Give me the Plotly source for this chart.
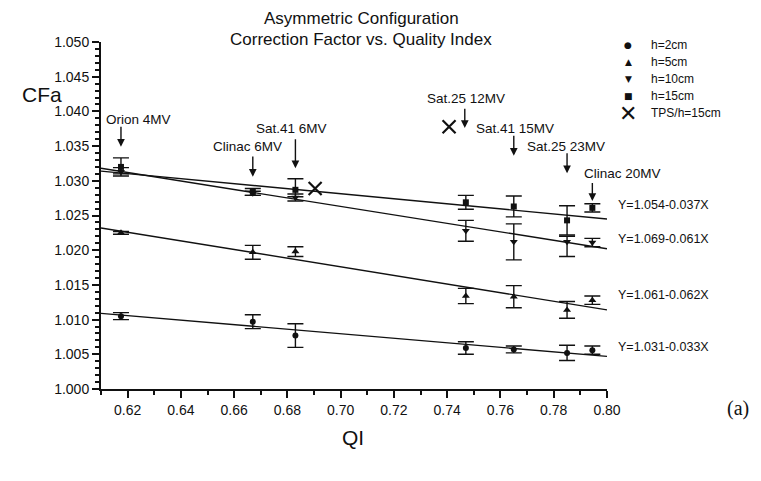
import plotly.graph_objects as go

# ---------------- data ----------------
qi = [0.6175, 0.667, 0.683, 0.747, 0.765, 0.785, 0.7945]

h2 = [1.0105, 1.0097, 1.0077, 1.0059, 1.0057, 1.0052, 1.0056]
h2_err = [0.0005, 0.0010, 0.0017, 0.0009, 0.0005, 0.0011, 0.0006]

h5 = [1.0225, 1.0197, 1.0198, 1.0134, 1.0133, 1.0114, 1.0128]
h5_err = [0.0002, 0.0010, 0.0007, 0.0011, 0.0016, 0.0012, 0.0006]

h10 = [1.0313, 1.0282, 1.0276, 1.0228, 1.0212, 1.0212, 1.0211]
h10_err_plus = [0.0006, 0.0003, 0.0005, 0.0015, 0.0026, 0.0008, 0.0006]
h10_err_minus = [0.0006, 0.0003, 0.0005, 0.0015, 0.0026, 0.0021, 0.0006]

h15 = [1.0320, 1.0284, 1.0287, 1.0269, 1.0263, 1.0243, 1.0261]
h15_err_plus = [0.0013, 0.0005, 0.0016, 0.0010, 0.0015, 0.0021, 0.0006]
h15_err_minus = [0.0010, 0.0005, 0.0010, 0.0010, 0.0015, 0.0021, 0.0006]

tps_x = [0.6904, 0.7407]
tps_y = [1.0289, 1.0378]

fit_x = [0.61, 0.80]
fit_h15 = [1.0314, 1.0245]
fit_h10 = [1.0318, 1.0202]
fit_h5 = [1.0232, 1.0114]
fit_h2 = [1.0109, 1.0047]

fit_labels = ["Y=1.054-0.037X", "Y=1.069-0.061X", "Y=1.061-0.062X", "Y=1.031-0.033X"]
fit_label_y = [1.0265, 1.0216, 1.0136, 1.0060]

legend_names = ["h=2cm", "h=5cm", "h=10cm", "h=15cm", "TPS/h=15cm"]
legend_glyphs = ["\u25CF", "\u25B2", "\u25BC", "\u25A0", "\u2715"]

beam_labels = ["Orion 4MV", "Clinac 6MV", "Sat.41 6MV", "Sat.25 12MV",
               "Sat.41 15MV", "Sat.25 23MV", "Clinac 20MV"]
beam_x = [0.6175, 0.667, 0.683, 0.7466, 0.765, 0.785, 0.7945]
beam_text_x = [0.6112, 0.6650, 0.6815, 0.7470, 0.7655, 0.7845, 0.7905]
beam_text_anchor = ["left", "center", "center", "center", "center", "center", "left"]
beam_text_y = [1.0389, 1.0350, 1.0376, 1.0418, 1.0376, 1.0350, 1.0311]
arrow_tail_y = [1.0380, 1.0337, 1.0362, 1.0406, 1.0367, 1.0342, 1.0299]
arrow_tip_y = [1.0349, 1.0306, 1.0318, 1.0376, 1.0336, 1.0311, 1.0271]

FONT = "Liberation Sans, Arial, sans-serif"
BLACK = "#111111"

# ---------------- layout geometry ----------------
L, R, T, B = 93, 162, 34, 100
PW = 761 - L - R
PH = 481 - T - B


def px_x(px):
    return (px - L) / PW


def px_y(py):
    return (481 - B - py) / PH


fig = go.Figure()


def err(plus, minus=None):
    d = dict(type="data", array=plus, color=BLACK, thickness=1.4, width=8, visible=True)
    if minus is not None:
        d["symmetric"] = False
        d["arrayminus"] = minus
    return d


for fy in [fit_h15, fit_h10, fit_h5, fit_h2]:
    fig.add_trace(go.Scatter(x=fit_x, y=fy, mode="lines", showlegend=False,
                             line=dict(color=BLACK, width=1.4), hoverinfo="skip"))

fig.add_trace(go.Scatter(x=qi, y=h2, mode="markers", name=legend_names[0], showlegend=False,
                         marker=dict(symbol="circle", size=6, color=BLACK),
                         error_y=err(h2_err)))
fig.add_trace(go.Scatter(x=qi, y=h5, mode="markers", name=legend_names[1], showlegend=False,
                         marker=dict(symbol="triangle-up", size=7, color=BLACK),
                         error_y=err(h5_err)))
fig.add_trace(go.Scatter(x=qi, y=h10, mode="markers", name=legend_names[2], showlegend=False,
                         marker=dict(symbol="triangle-down", size=7, color=BLACK),
                         error_y=err(h10_err_plus, h10_err_minus)))
fig.add_trace(go.Scatter(x=qi, y=h15, mode="markers", name=legend_names[3], showlegend=False,
                         marker=dict(symbol="square", size=6, color=BLACK),
                         error_y=err(h15_err_plus, h15_err_minus)))
fig.add_trace(go.Scatter(x=tps_x, y=tps_y, mode="markers", name=legend_names[4], showlegend=False,
                         marker=dict(symbol="x-thin", size=13, color=BLACK,
                                     line=dict(color=BLACK, width=2.2))))

annotations = []


def paper_text(text, x, y, size, family=FONT, xanchor="center"):
    annotations.append(dict(text=text, xref="paper", yref="paper", x=x, y=y,
                            xanchor=xanchor, yanchor="middle", showarrow=False,
                            font=dict(family=family, size=size, color=BLACK)))


paper_text("Asymmetric Configuration", px_x(353), px_y(11), 17)
paper_text("Correction Factor vs. Quality Index", px_x(353), px_y(31), 17)
paper_text("QI", px_x(345), px_y(429), 21)
paper_text("(a)", px_x(730), px_y(400), 20, family="Liberation Serif, Times New Roman, serif")
annotations.append(dict(text="CFa", xref="paper", yref="y", x=px_x(34), y=1.0425,
                        xanchor="center", yanchor="middle", showarrow=False,
                        font=dict(family=FONT, size=21, color=BLACK)))

# legend (drawn as text keys)
glyph_sizes = [9, 9, 9, 9, 22]
for i, (g, nm) in enumerate(zip(legend_glyphs, legend_names)):
    row_y = 37 + i * 17
    paper_text(g, px_x(620), px_y(row_y), glyph_sizes[i], family="DejaVu Sans")
    paper_text(nm, px_x(641), px_y(row_y), 12, xanchor="left")

for t, yv in zip(fit_labels, fit_label_y):
    annotations.append(dict(text=t, xref="paper", yref="y", x=px_x(608), y=yv,
                            xanchor="left", yanchor="middle", showarrow=False,
                            font=dict(family=FONT, size=12.5, color=BLACK)))

for lab, bx, tx, anc, ty, a0, a1 in zip(beam_labels, beam_x, beam_text_x, beam_text_anchor,
                                        beam_text_y, arrow_tail_y, arrow_tip_y):
    annotations.append(dict(text=lab, x=tx, y=ty, xref="x", yref="y", showarrow=False,
                            xanchor=anc, yanchor="middle",
                            font=dict(family=FONT, size=13.5, color=BLACK)))
    annotations.append(dict(text="", x=bx, y=a1, ax=bx, ay=a0, xref="x", yref="y",
                            axref="x", ayref="y", showarrow=True, arrowhead=2,
                            arrowsize=1.1, arrowwidth=1.4, arrowcolor=BLACK))

fig.update_layout(
    width=761, height=481,
    margin=dict(l=L, r=R, t=T, b=B),
    paper_bgcolor="white", plot_bgcolor="white",
    font=dict(family=FONT, color=BLACK, size=14),
    annotations=annotations,
    showlegend=False,
    xaxis=dict(range=[0.61, 0.80], dtick=0.02, tick0=0.62, tickformat=".2f",
               showline=True, linewidth=2, linecolor=BLACK, showgrid=False, zeroline=False,
               ticks="outside", ticklen=7, tickwidth=2, tickcolor=BLACK,
               minor=dict(dtick=0.01, ticks="outside", ticklen=4, tickwidth=2, tickcolor=BLACK),
               tickfont=dict(family=FONT, size=14, color=BLACK)),
    yaxis=dict(range=[1.000, 1.050], dtick=0.005, tick0=1.0, tickformat=".3f",
               showline=True, linewidth=2, linecolor=BLACK, showgrid=False, zeroline=False,
               ticks="outside", ticklen=7, tickwidth=2, tickcolor=BLACK,
               minor=dict(dtick=0.001, ticks="outside", ticklen=4, tickwidth=1.5, tickcolor=BLACK),
               tickfont=dict(family=FONT, size=14, color=BLACK)),
)

fig.write_html("out.html")
